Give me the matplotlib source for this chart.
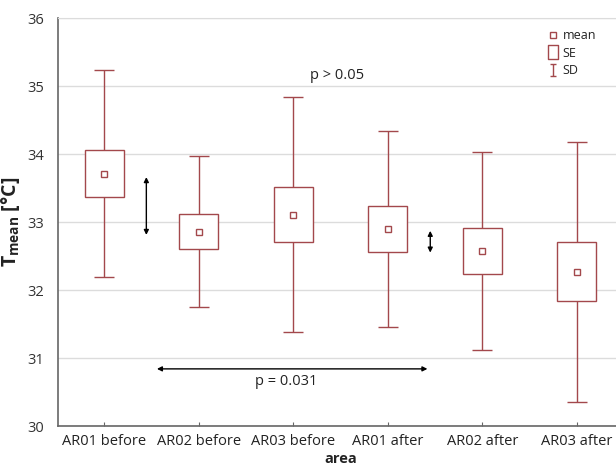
import matplotlib
matplotlib.use("Agg")
import matplotlib.pyplot as plt
from matplotlib.lines import Line2D
from matplotlib.path import Path
import numpy as np

plt.rcParams['font.family'] = ['Open Sans', 'DejaVu Sans']
plt.rcParams['mathtext.fontset'] = 'custom'
plt.rcParams['mathtext.rm'] = 'Open Sans'
plt.rcParams['mathtext.bf'] = 'Open Sans:bold'

categories = ["AR01 before", "AR02 before", "AR03 before", "AR01 after", "AR02 after", "AR03 after"]
means = [33.71, 32.86, 33.11, 32.90, 32.57, 32.27]
se = [0.345, 0.26, 0.40, 0.34, 0.335, 0.435]
sd = [1.525, 1.105, 1.725, 1.44, 1.455, 1.91]
yticks = [30, 31, 32, 33, 34, 35, 36]

RED = '#a3484c'
W, H = 616, 467
fig = plt.figure(figsize=(W/100, H/100), dpi=100)
ax = fig.add_axes([58/W, 41/H, 565/W, 408/H])

x = np.arange(len(categories))
means_a = np.array(means); se_a = np.array(se); sd_a = np.array(sd)

ax.errorbar(x, means_a, yerr=sd_a, fmt='none', ecolor=RED, elinewidth=1.0,
            capsize=7, capthick=1.0, zorder=2)
ax.bar(x, 2*se_a, bottom=means_a-se_a, width=0.41, facecolor='white',
       edgecolor=RED, linewidth=1.0, zorder=3)
ax.plot(x, means_a, 's', mfc='white', mec=RED, ms=4.3, mew=1.0, zorder=4, linestyle='none')

ax.set_xlim(-0.49, 5.49)
ax.set_ylim(30, 36)
ax.set_yticks(yticks)
ax.set_xticks(x)
ax.set_xticklabels(categories)
ax.yaxis.grid(True, color='#dcdcdc', lw=1.0, zorder=0)
ax.set_axisbelow(True)
ax.tick_params(axis='x', direction='in', length=3, color='#666666', labelsize=10.5,
               labelcolor='#222222', pad=6)
ax.tick_params(axis='y', length=0, labelsize=10.5, labelcolor='#333333', pad=10)
for s in ['left', 'bottom']:
    ax.spines[s].set_color('#666666')
    ax.spines[s].set_linewidth(1.2)
ax.spines['right'].set_visible(False)
ax.spines['top'].set_color('#dcdcdc')

ax.set_xlabel('area', fontweight='bold', fontsize=10.5, color='#222222', labelpad=2)
ax.set_ylabel(r'$\mathbf{T_{mean}}$ [°C]', fontweight='bold', fontsize=14, color='#222222')
ax.yaxis.set_label_coords(-0.064, 0.5)

arrow_kw = dict(arrowstyle='<|-|>', color='black', lw=1.0, mutation_scale=7, shrinkA=0, shrinkB=0)
ax.annotate('', xy=(0.445, 33.66), xytext=(0.445, 32.81), arrowprops=arrow_kw)
ax.annotate('', xy=(3.45, 32.87), xytext=(3.45, 32.55), arrowprops=arrow_kw)
ax.annotate('', xy=(0.557, 30.84), xytext=(3.42, 30.84), arrowprops=arrow_kw)
ax.text(1.92, 30.66, 'p = 0.031', ha='center', va='center', fontsize=10.5, color='#222222')
ax.text(2.46, 35.16, 'p > 0.05', ha='center', va='center', fontsize=10.5, color='#222222')

ibeam = Path([(-0.5, 1), (0.5, 1), (0, 1), (0, -1), (-0.5, -1), (0.5, -1)],
             [Path.MOVETO, Path.LINETO, Path.MOVETO, Path.LINETO, Path.MOVETO, Path.LINETO])
rect = Path([(-0.7, -1), (0.7, -1), (0.7, 1), (-0.7, 1), (-0.7, -1)],
            [Path.MOVETO, Path.LINETO, Path.LINETO, Path.LINETO, Path.CLOSEPOLY])
handles = [
    Line2D([], [], marker='s', ls='none', mfc='white', mec=RED, ms=4, mew=1),
    Line2D([], [], marker=rect, ls='none', mfc='white', mec=RED, ms=10, mew=1),
    Line2D([], [], marker=ibeam, ls='none', mfc='none', mec=RED, ms=9, mew=1),
]
leg = ax.legend(handles, ['mean', 'SE', 'SD'], loc='upper left',
                bbox_to_anchor=(547/W, 1-29/H), bbox_transform=fig.transFigure,
                frameon=False, fontsize=9, handlelength=1.0, handletextpad=0.25,
                labelspacing=0.38, borderaxespad=0, borderpad=0)
for t in leg.get_texts():
    t.set_color('#222222')

fig.savefig('out.png', dpi=100)
